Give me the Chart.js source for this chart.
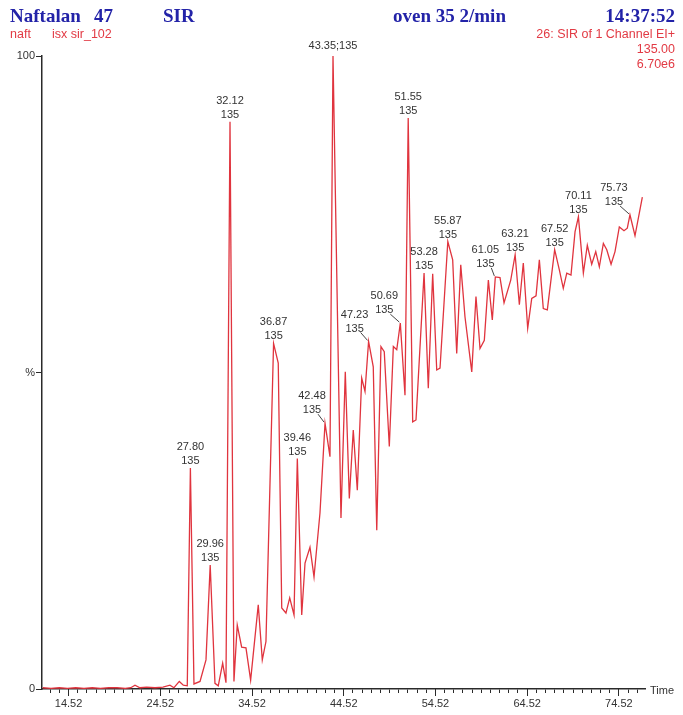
<!DOCTYPE html>
<html>
<head>
<meta charset="utf-8">
<script src="https://cdn.jsdelivr.net/npm/chart.js@4/dist/chart.umd.min.js"></script>
<style>
  html, body { margin: 0; padding: 0; background: #fff; }
  #wrap { position: relative; width: 683px; height: 715px; overflow: hidden; }
  canvas { position: absolute; left: 0; top: 0; }
  .h { position: absolute; white-space: nowrap; line-height: 1; }
  .b { font: bold 19px "Liberation Serif", "Times New Roman", serif; color: #2323a8; top: 5px; }
  .r { font: 12.5px "Liberation Sans", Arial, sans-serif; color: #e23a44; }
</style>
</head>
<body>
<div id="wrap">
  <canvas id="c" width="683" height="715"></canvas>
  <div class="h b" style="left:10px">Naftalan</div>
  <div class="h b" style="left:94px">47</div>
  <div class="h b" style="left:163px">SIR</div>
  <div class="h b" style="left:393px">oven 35 2/min</div>
  <div class="h b" style="right:8px">14:37:52</div>
  <div class="h r" style="left:10px;top:27px">naft</div>
  <div class="h r" style="left:52px;top:27px">isx sir_102</div>
  <div class="h r" style="right:8px;top:27px">26: SIR of 1 Channel EI+</div>
  <div class="h r" style="right:8px;top:42px">135.00</div>
  <div class="h r" style="right:8px;top:57px">6.70e6</div>
</div>
<script>
// Retention time (min) of each sample of the m/z 135 trace
const retentionTimes = [
  11.70, 12.60, 13.50, 14.40, 15.30, 16.20, 17.10, 18.00, 18.90, 19.80,
  20.70, 21.30, 21.76, 22.30, 23.03, 23.94, 24.81, 25.57, 26.01, 26.59,
  27.03, 27.46, 27.80, 28.19, 28.85, 29.50, 29.96, 30.48, 30.84, 31.32,
  31.68, 32.12, 32.55, 32.91, 33.39, 33.86, 34.37, 35.20, 35.64, 36.04,
  36.87, 37.38, 37.76, 38.22, 38.63, 39.10, 39.46, 39.94, 40.30, 40.84,
  41.28, 41.93, 42.48, 43.02, 43.35, 44.22, 44.69, 45.13, 45.56, 46.00,
  46.48, 46.84, 47.23, 47.74, 48.12, 48.58, 48.94, 49.49, 49.93, 50.30,
  50.69, 51.20, 51.55, 52.04, 52.40, 53.28, 53.74, 54.22, 54.66, 55.02,
  55.87, 56.40, 56.84, 57.28, 57.74, 58.48, 58.94, 59.38, 59.85, 60.29,
  60.72, 61.05, 61.56, 62.00, 62.73, 63.21, 63.67, 64.10, 64.58, 65.02,
  65.49, 65.85, 66.28, 66.72, 67.52, 68.03, 68.46, 68.84, 69.30, 69.74,
  70.11, 70.65, 71.08, 71.56, 72.00, 72.39, 72.83, 73.20, 73.67, 74.10,
  74.57, 75.08, 75.44, 75.73, 76.28, 77.08
];

// Relative intensity (%) at each retention time
const intensities = [
  0.2, 0.1, 0.2, 0.1, 0.2, 0.1, 0.2, 0.1, 0.2, 0.2,
  0.1, 0.2, 0.6, 0.2, 0.3, 0.2, 0.3, 0.6, 0.2, 1.2,
  0.6, 0.5, 34.9, 0.8, 1.2, 4.6, 19.6, 0.9, 0.5, 4.1,
  1.0, 89.6, 1.2, 10.1, 6.6, 6.5, 1.4, 13.3, 4.6, 7.5,
  54.6, 51.5, 12.8, 12.0, 14.4, 11.7, 36.4, 11.7, 19.9, 22.4,
  17.7, 27.8, 42.0, 36.7, 100.0, 27.0, 50.1, 30.1, 40.9, 31.4,
  49.1, 47.0, 54.9, 50.9, 25.1, 54.1, 53.3, 38.3, 54.1, 53.6,
  57.8, 46.4, 90.2, 42.2, 42.5, 65.7, 47.5, 65.6, 50.4, 50.7,
  70.7, 67.8, 53.0, 67.0, 58.8, 50.1, 62.0, 53.8, 55.1, 64.6,
  58.3, 65.1, 65.0, 61.0, 64.6, 68.6, 60.7, 67.3, 57.0, 61.7,
  62.1, 67.8, 60.1, 59.9, 69.4, 66.2, 63.3, 65.7, 65.4, 72.2,
  74.6, 65.7, 70.1, 67.1, 69.1, 66.7, 70.4, 69.4, 67.1, 69.1,
  73.0, 72.4, 72.8, 74.9, 71.6, 77.7
];

// Labelled time-axis ticks (min)
const timeTickLabels = [14.52, 24.52, 34.52, 44.52, 54.52, 64.52, 74.52];

// Intensity-axis ticks and their labels
const intensityTicks = [0, 50, 100];
const intensityTickLabels = ['0', '%', '100'];

// Annotated peaks (retention time) and the ion monitored
const peakTimes = ['27.80', '29.96', '32.12', '36.87', '39.46', '42.48', '43.35', '47.23',
                   '50.69', '51.55', '53.28', '55.87', '61.05', '63.21', '67.52', '70.11', '75.73'];
const ionMass = '135';

// Axis range
const timeMin = 11.62, timeMax = 77.37;

// Peaks whose labels sit up-left with a leader line (horizontal shift in px)
const leaderShift = { '42.48': -13, '47.23': -14, '50.69': -16, '61.05': -10, '75.73': -16 };
const singleLinePeak = '43.35';

// One-minute minor ticks aligned with the labelled ones
const minorTicks = [];
for (let v = timeTickLabels[0] - 2; v <= timeMax; v += 1) minorTicks.push(+v.toFixed(2));

const inkColor = '#2a2a2a';
const labelFont = '11px "Liberation Sans", Arial, sans-serif';

const peakLabelPlugin = {
  id: 'peakLabels',
  afterDatasetsDraw(chart) {
    const ctx = chart.ctx;
    const pts = chart.getDatasetMeta(0).data;
    ctx.save();
    ctx.font = labelFont;
    ctx.fillStyle = '#333';
    ctx.strokeStyle = '#444';
    ctx.lineWidth = 1;
    ctx.textAlign = 'center';
    ctx.textBaseline = 'middle';
    peakTimes.forEach(label => {
      const t = parseFloat(label);
      const i = retentionTimes.findIndex(v => Math.abs(v - t) < 1e-6);
      if (i < 0) return;
      const p = pts[i];
      if (label === singleLinePeak) {
        ctx.fillText(label + ';' + ionMass, p.x, p.y - 10);
        return;
      }
      const shift = leaderShift[label];
      if (shift) {
        const cx = p.x + shift;
        ctx.fillText(label, cx, p.y - 27);
        ctx.fillText(ionMass, cx, p.y - 13);
        ctx.beginPath();
        ctx.moveTo(cx + 6, p.y - 9);
        ctx.lineTo(p.x - 1, p.y - 1);
        ctx.stroke();
      } else {
        ctx.fillText(label, p.x, p.y - 21);
        ctx.fillText(ionMass, p.x, p.y - 7);
      }
    });
    // axis name at the end of the time axis
    const xs = chart.scales.x, ys = chart.scales.y;
    ctx.textAlign = 'left';
    ctx.fillStyle = '#333';
    ctx.fillText('Time', xs.right + 5, ys.getPixelForValue(0) + 2);
    ctx.restore();
  }
};

new Chart(document.getElementById('c'), {
  type: 'line',
  data: {
    datasets: [{
      data: retentionTimes.map((t, i) => ({ x: t, y: intensities[i] })),
      borderColor: '#e0343e',
      borderWidth: 1.3,
      pointRadius: 0,
      tension: 0,
      fill: false
    }]
  },
  options: {
    responsive: false,
    animation: false,
    devicePixelRatio: 1,
    layout: { padding: { top: 56, right: 38, left: 0, bottom: 0 } },
    plugins: { legend: { display: false }, tooltip: { enabled: false } },
    scales: {
      x: {
        type: 'linear',
        position: 'bottom',
        min: timeMin,
        max: timeMax,
        afterBuildTicks: s => { s.ticks = minorTicks.map(v => ({ value: v })); },
        afterFit: s => { s.height = 26; },
        grid: { drawOnChartArea: false, drawTicks: true, tickLength: 4, color: inkColor, tickColor: inkColor, tickWidth: 1 },
        border: { display: true, color: inkColor, width: 1.5 },
        ticks: {
          autoSkip: false,
          maxRotation: 0,
          padding: 4,
          color: '#333',
          font: { family: '"Liberation Sans", Arial, sans-serif', size: 11 },
          callback: v => timeTickLabels.some(m => Math.abs(m - v) < 1e-6) ? v.toFixed(2) : ''
        }
      },
      xMajor: {
        type: 'linear',
        axis: 'x',
        position: { y: 0 },
        min: timeMin,
        max: timeMax,
        afterBuildTicks: s => { s.ticks = timeTickLabels.map(v => ({ value: v })); },
        grid: { drawOnChartArea: false, drawTicks: true, tickLength: 7, tickColor: inkColor, tickWidth: 1 },
        border: { display: false },
        ticks: { display: false }
      },
      y: {
        type: 'linear',
        position: 'left',
        min: 0,
        max: 100,
        afterBuildTicks: s => { s.ticks = intensityTicks.map(v => ({ value: v })); },
        afterFit: s => { s.width = 42; },
        grid: { drawOnChartArea: false, drawTicks: true, tickLength: 6, tickColor: inkColor, tickWidth: 1 },
        border: { display: true, color: inkColor, width: 1.5 },
        ticks: {
          padding: 1,
          color: '#333',
          font: { family: '"Liberation Sans", Arial, sans-serif', size: 11 },
          callback: v => intensityTickLabels[intensityTicks.indexOf(v)]
        }
      }
    }
  },
  plugins: [peakLabelPlugin]
});
</script>
</body>
</html>
